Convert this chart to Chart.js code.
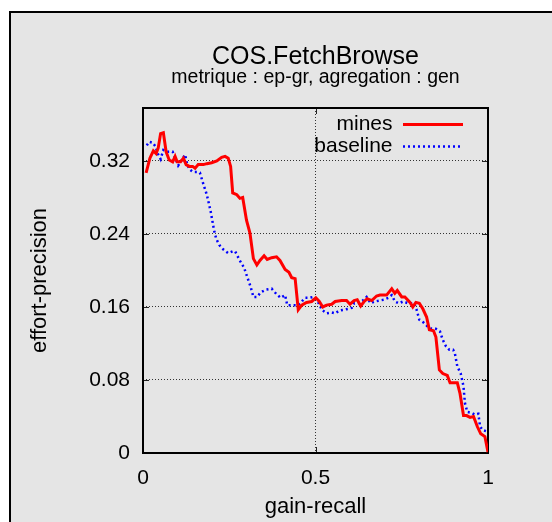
<!DOCTYPE html>
<html>
<head>
<meta charset="utf-8">
<script src="https://cdn.jsdelivr.net/npm/chart.js@4.4.0/dist/chart.umd.min.js"></script>
<style>
  html, body { margin: 0; padding: 0; background: #fff; }
  #wrap { width: 552px; height: 522px; }
</style>
</head>
<body>
<div id="wrap"><canvas id="prChart" width="552" height="522"></canvas></div>
<script>
const titleText = 'COS.FetchBrowse';
const subtitleText = 'metrique : ep-gr, agregation : gen';
const seriesNames = ['mines', 'baseline'];

const xTicks = [0, 0.5, 1];
const xTickLabels = ['0', '0.5', '1'];
const yTicks = [0, 0.08, 0.16, 0.24, 0.32];
const yTickLabels = ['0', '0.08', '0.16', '0.24', '0.32'];

// mines : recall / precision
const minesRecall = [
  0.009, 0.020, 0.030, 0.038, 0.044, 0.051, 0.059, 0.067, 0.076, 0.086,
  0.093, 0.099, 0.109, 0.117, 0.125, 0.134, 0.144, 0.151, 0.160, 0.175,
  0.185, 0.199, 0.214, 0.228, 0.238, 0.247, 0.254, 0.260, 0.272, 0.281,
  0.289, 0.300, 0.310, 0.320, 0.330, 0.339, 0.351, 0.360, 0.373, 0.387,
  0.397, 0.412, 0.423, 0.431, 0.441, 0.450, 0.460, 0.474, 0.489, 0.501,
  0.511, 0.521, 0.532, 0.547, 0.557, 0.576, 0.590, 0.600, 0.612, 0.621,
  0.631, 0.641, 0.650, 0.663, 0.677, 0.687, 0.706, 0.721, 0.730, 0.737,
  0.750, 0.759, 0.774, 0.782, 0.791, 0.801, 0.811, 0.822, 0.830, 0.842,
  0.849, 0.859, 0.869, 0.882, 0.890, 0.911, 0.919, 0.929, 0.938, 0.948,
  0.958, 0.969, 0.979, 0.991, 1.000
];
const minesPrecision = [
  0.307, 0.323, 0.331, 0.328, 0.334, 0.350, 0.351, 0.330, 0.321, 0.319,
  0.325, 0.319, 0.319, 0.323, 0.316, 0.314, 0.314, 0.312, 0.316, 0.316,
  0.317, 0.318, 0.320, 0.324, 0.325, 0.323, 0.314, 0.285, 0.283, 0.279,
  0.280, 0.255, 0.241, 0.213, 0.206, 0.211, 0.216, 0.212, 0.214, 0.215,
  0.211, 0.201, 0.198, 0.192, 0.191, 0.157, 0.162, 0.165, 0.166, 0.170,
  0.166, 0.160, 0.162, 0.163, 0.166, 0.167, 0.167, 0.163, 0.167, 0.168,
  0.161, 0.166, 0.169, 0.167, 0.172, 0.173, 0.173, 0.180, 0.175, 0.178,
  0.171, 0.171, 0.165, 0.160, 0.165, 0.164, 0.158, 0.149, 0.135, 0.134,
  0.127, 0.091, 0.087, 0.085, 0.077, 0.077, 0.065, 0.041, 0.041, 0.039,
  0.040, 0.029, 0.021, 0.018, 0.001
];

// baseline : recall / precision
const baselineRecall = [
  0.011, 0.018, 0.028, 0.036, 0.044, 0.051, 0.059, 0.073, 0.086, 0.091,
  0.098, 0.102, 0.109, 0.117, 0.122, 0.127, 0.134, 0.144, 0.156, 0.165,
  0.173, 0.185, 0.196, 0.206, 0.212, 0.221, 0.233, 0.247, 0.260, 0.267,
  0.279, 0.293, 0.302, 0.312, 0.320, 0.331, 0.341, 0.357, 0.373, 0.387,
  0.399, 0.412, 0.418, 0.436, 0.450, 0.460, 0.470, 0.482, 0.494, 0.503,
  0.511, 0.518, 0.532, 0.547, 0.557, 0.569, 0.583, 0.595, 0.605, 0.612,
  0.624, 0.637, 0.648, 0.660, 0.672, 0.685, 0.699, 0.711, 0.721, 0.730,
  0.741, 0.754, 0.769, 0.786, 0.793, 0.801, 0.813, 0.824, 0.837, 0.849,
  0.861, 0.869, 0.878, 0.888, 0.899, 0.904, 0.911, 0.921, 0.929, 0.933,
  0.940, 0.953, 0.962, 0.972, 0.977, 0.985, 0.994
];
const baselinePrecision = [
  0.337, 0.341, 0.340, 0.336, 0.327, 0.322, 0.332, 0.330, 0.330, 0.325,
  0.319, 0.315, 0.319, 0.324, 0.327, 0.318, 0.311, 0.308, 0.308, 0.307,
  0.297, 0.283, 0.265, 0.244, 0.235, 0.228, 0.223, 0.219, 0.221, 0.221,
  0.212, 0.203, 0.193, 0.182, 0.171, 0.171, 0.176, 0.179, 0.180, 0.174,
  0.170, 0.173, 0.162, 0.162, 0.162, 0.166, 0.170, 0.170, 0.171, 0.168,
  0.163, 0.157, 0.153, 0.154, 0.153, 0.156, 0.157, 0.158, 0.159, 0.164,
  0.164, 0.167, 0.171, 0.164, 0.166, 0.167, 0.168, 0.170, 0.173, 0.166,
  0.164, 0.166, 0.164, 0.164, 0.157, 0.146, 0.143, 0.139, 0.136, 0.136,
  0.133, 0.124, 0.117, 0.113, 0.113, 0.109, 0.095, 0.087, 0.073, 0.055,
  0.045, 0.044, 0.042, 0.043, 0.029, 0.025, 0.024
];

const FONT = "'Liberation Sans', Arial, Helvetica, sans-serif";

function toPoints(xs, ys) {
  return xs.map((x, i) => ({ x: x, y: ys[i] }));
}

// gray panel, titles, plot border with gnuplot style inner ticks
const gnuFrame = {
  id: 'gnuFrame',
  beforeDraw(chart) {
    const ctx = chart.ctx;
    const w = chart.width, h = chart.height;
    ctx.save();
    ctx.fillStyle = '#ffffff';
    ctx.fillRect(0, 0, w, h);
    ctx.fillStyle = '#e5e5e5';
    ctx.fillRect(10, 12, w - 10, h - 12);
    ctx.strokeStyle = '#000';
    ctx.lineWidth = 2;
    ctx.beginPath();
    ctx.moveTo(10, h);
    ctx.lineTo(10, 12);
    ctx.lineTo(w, 12);
    ctx.stroke();

    const cx = (chart.chartArea.left + chart.chartArea.right) / 2;
    ctx.fillStyle = '#000';
    ctx.textAlign = 'center';
    ctx.textBaseline = 'alphabetic';
    ctx.font = '25px ' + FONT;
    ctx.fillText(titleText, cx, 64);
    ctx.font = '19.5px ' + FONT;
    ctx.fillText(subtitleText, cx, 83);
    ctx.restore();
  },
  afterLayout(chart) {
    const lg = chart.legend;
    if (!lg) return;
    const pad = lg.options.labels.padding;
    const w = lg.width;
    lg.right = 463 + pad;
    lg.left = lg.right - w;
    lg.top = 113;
    lg.bottom = chart.chartArea.bottom;
  },
  beforeDatasetsDraw(chart) {
    const ctx = chart.ctx;
    const a = chart.chartArea;
    const xs = chart.scales.x, ys = chart.scales.y;
    ctx.save();
    ctx.strokeStyle = '#222';
    ctx.lineWidth = 1;
    ctx.beginPath();
    xTicks.forEach(v => {
      const px = Math.round(xs.getPixelForValue(v)) + 0.5;
      ctx.moveTo(px, a.bottom); ctx.lineTo(px, a.bottom - 6);
      ctx.moveTo(px, a.top); ctx.lineTo(px, a.top + 6);
    });
    yTicks.forEach(v => {
      const py = Math.round(ys.getPixelForValue(v)) + 0.5;
      ctx.moveTo(a.left, py); ctx.lineTo(a.left + 6, py);
      ctx.moveTo(a.right, py); ctx.lineTo(a.right - 6, py);
    });
    ctx.stroke();
    ctx.strokeStyle = '#000';
    ctx.lineWidth = 2;
    ctx.strokeRect(a.left, a.top, a.right - a.left, a.bottom - a.top);
    ctx.restore();
  }
};

const ctx = document.getElementById('prChart').getContext('2d');

new Chart(ctx, {
  type: 'scatter',
  data: {
    datasets: [
      {
        label: seriesNames[0],
        data: toPoints(minesRecall, minesPrecision),
        showLine: true,
        borderColor: '#ff0000',
        backgroundColor: '#ff0000',
        borderWidth: 3,
        pointRadius: 0,
        tension: 0
      },
      {
        label: seriesNames[1],
        data: toPoints(baselineRecall, baselinePrecision),
        showLine: true,
        borderColor: '#0000ff',
        backgroundColor: '#0000ff',
        borderWidth: 2.5,
        borderDash: [2, 3],
        pointRadius: 0,
        tension: 0
      }
    ]
  },
  options: {
    responsive: false,
    animation: false,
    devicePixelRatio: 1,
    layout: { padding: { left: 0, top: 108, right: 64, bottom: 0 } },
    plugins: {
      title: { display: false },
      tooltip: { enabled: false },
      legend: {
        position: 'chartArea',
        align: 'start',
        rtl: true,
        labels: {
          usePointStyle: true,
          pointStyle: 'line',
          pointStyleWidth: 60,
          padding: 1,
          color: '#000',
          font: { family: FONT, size: 21 },
          generateLabels(chart) {
            const items = Chart.defaults.plugins.legend.labels.generateLabels(chart);
            items.forEach(item => {
              const ds = chart.data.datasets[item.datasetIndex];
              item.lineDash = ds.borderDash || [];
              item.lineWidth = ds.borderWidth;
              item.strokeStyle = ds.borderColor;
            });
            return items;
          }
        }
      }
    },
    scales: {
      x: {
        type: 'linear',
        min: 0,
        max: 1,
        afterFit(scale) { scale.height = 69; },
        afterBuildTicks(scale) { scale.ticks = xTicks.map(v => ({ value: v })); },
        ticks: {
          color: '#000',
          padding: 13,
          font: { family: FONT, size: 21 },
          callback: (v) => xTickLabels[xTicks.indexOf(v)]
        },
        grid: { color: '#333', lineWidth: 1, drawTicks: false },
        border: { display: false, dash: [1, 2] },
        title: {
          display: true,
          text: 'gain-recall',
          color: '#000',
          font: { family: FONT, size: 22 },
          padding: { top: 0, bottom: 2 }
        }
      },
      y: {
        type: 'linear',
        min: 0,
        max: 0.378,
        afterFit(scale) { scale.width = 143; },
        afterBuildTicks(scale) { scale.ticks = yTicks.map(v => ({ value: v })); },
        ticks: {
          color: '#000',
          padding: 13,
          font: { family: FONT, size: 21 },
          callback: (v) => yTickLabels[yTicks.indexOf(v)]
        },
        grid: { color: '#333', lineWidth: 1, drawTicks: false },
        border: { display: false, dash: [1, 2] },
        title: {
          display: true,
          text: 'effort-precision',
          color: '#000',
          font: { family: FONT, size: 22 },
          padding: { top: 27, bottom: 0 }
        }
      }
    }
  },
  plugins: [gnuFrame]
});
</script>
</body>
</html>
